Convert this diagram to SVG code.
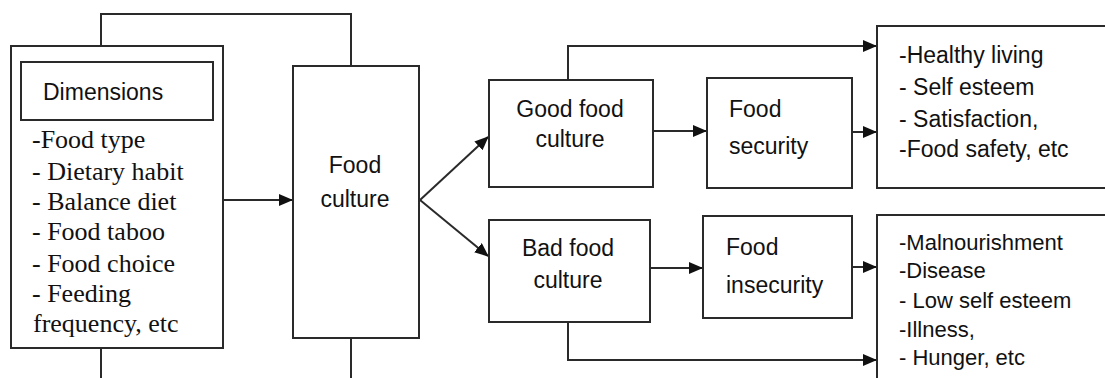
<svg xmlns="http://www.w3.org/2000/svg" width="1105" height="378" viewBox="0 0 1105 378">
<defs>
<style>
.box{fill:#fff;stroke:#2a2a2a;stroke-width:2}
.ln{fill:none;stroke:#2a2a2a;stroke-width:2}
.s{font-family:"Liberation Sans",Arial,sans-serif;font-size:23px;fill:#111}
.s2{font-family:"Liberation Sans",Arial,sans-serif;font-size:22px;fill:#111}
.r{font-family:"Liberation Serif","Times New Roman",serif;font-size:26px;fill:#111}
.c{text-anchor:middle}
</style>
<marker id="ah" markerUnits="userSpaceOnUse" markerWidth="14" markerHeight="12" refX="13" refY="6" orient="auto">
<path d="M0,0 L14,6 L0,12 Z" fill="#111"/>
</marker>
</defs>
<rect width="1105" height="378" fill="#fff"/>
<g id="connectors">
<polyline class="ln" points="101,46 101,14 351,14 351,66"/>
<line class="ln" x1="101" y1="348" x2="101" y2="378"/>
<line class="ln" x1="351" y1="338" x2="351" y2="378"/>
<line class="ln" x1="223" y1="200" x2="292" y2="200" marker-end="url(#ah)"/>
<line class="ln" x1="420" y1="200" x2="488" y2="137" marker-end="url(#ah)"/>
<line class="ln" x1="420" y1="200" x2="488" y2="256" marker-end="url(#ah)"/>
<polyline class="ln" points="568,80 568,46 876,46" marker-end="url(#ah)"/>
<line class="ln" x1="653" y1="131" x2="706" y2="131" marker-end="url(#ah)"/>
<line class="ln" x1="852" y1="132" x2="876" y2="132" marker-end="url(#ah)"/>
<line class="ln" x1="650" y1="268" x2="702" y2="268" marker-end="url(#ah)"/>
<line class="ln" x1="852" y1="267" x2="876" y2="267" marker-end="url(#ah)"/>
<polyline class="ln" points="568,322 568,360 876,360" marker-end="url(#ah)"/>
</g>
<g id="dimensions">
<rect class="box" x="11" y="46" width="212" height="302"/>
<rect class="box" x="21" y="62" width="192" height="58"/>
<text class="s" x="43" y="100">Dimensions</text>
<text class="r" x="32" y="148">-Food type</text>
<text class="r" x="32" y="180">- Dietary habit</text>
<text class="r" x="32" y="210">- Balance diet</text>
<text class="r" x="32" y="240">- Food taboo</text>
<text class="r" x="32" y="272">- Food choice</text>
<text class="r" x="32" y="302">- Feeding</text>
<text class="r" x="33" y="332">frequency, etc</text>
</g>
<g id="food-culture">
<rect class="box" x="293" y="66" width="126" height="272"/>
<text class="s c" x="355" y="173">Food</text>
<text class="s c" x="355" y="207">culture</text>
</g>
<g id="good-food-culture">
<rect class="box" x="489" y="80" width="164" height="107"/>
<text class="s c" x="570" y="117">Good food</text>
<text class="s c" x="570" y="147">culture</text>
</g>
<g id="bad-food-culture">
<rect class="box" x="489" y="220" width="161" height="102"/>
<text class="s c" x="568" y="256">Bad food</text>
<text class="s c" x="568" y="288">culture</text>
</g>
<g id="food-security">
<rect class="box" x="707" y="78" width="145" height="110"/>
<text class="s" x="729" y="117">Food</text>
<text class="s" x="729" y="154">security</text>
</g>
<g id="food-insecurity">
<rect class="box" x="703" y="216" width="149" height="102"/>
<text class="s" x="726" y="255">Food</text>
<text class="s" x="726" y="293">insecurity</text>
</g>
<g id="positive-outcomes">
<rect class="box" x="877" y="26" width="240" height="162"/>
<text class="s" x="899" y="63">-Healthy living</text>
<text class="s" x="899" y="95">- Self esteem</text>
<text class="s" x="899" y="127">- Satisfaction,</text>
<text class="s" x="899" y="157">-Food safety, etc</text>
</g>
<g id="negative-outcomes">
<rect class="box" x="877" y="215" width="240" height="180"/>
<text class="s2" x="899" y="250">-Malnourishment</text>
<text class="s2" x="899" y="278">-Disease</text>
<text class="s2" x="899" y="308">- Low self esteem</text>
<text class="s2" x="899" y="337">-Illness,</text>
<text class="s2" x="899" y="365">- Hunger, etc</text>
</g>
</svg>
